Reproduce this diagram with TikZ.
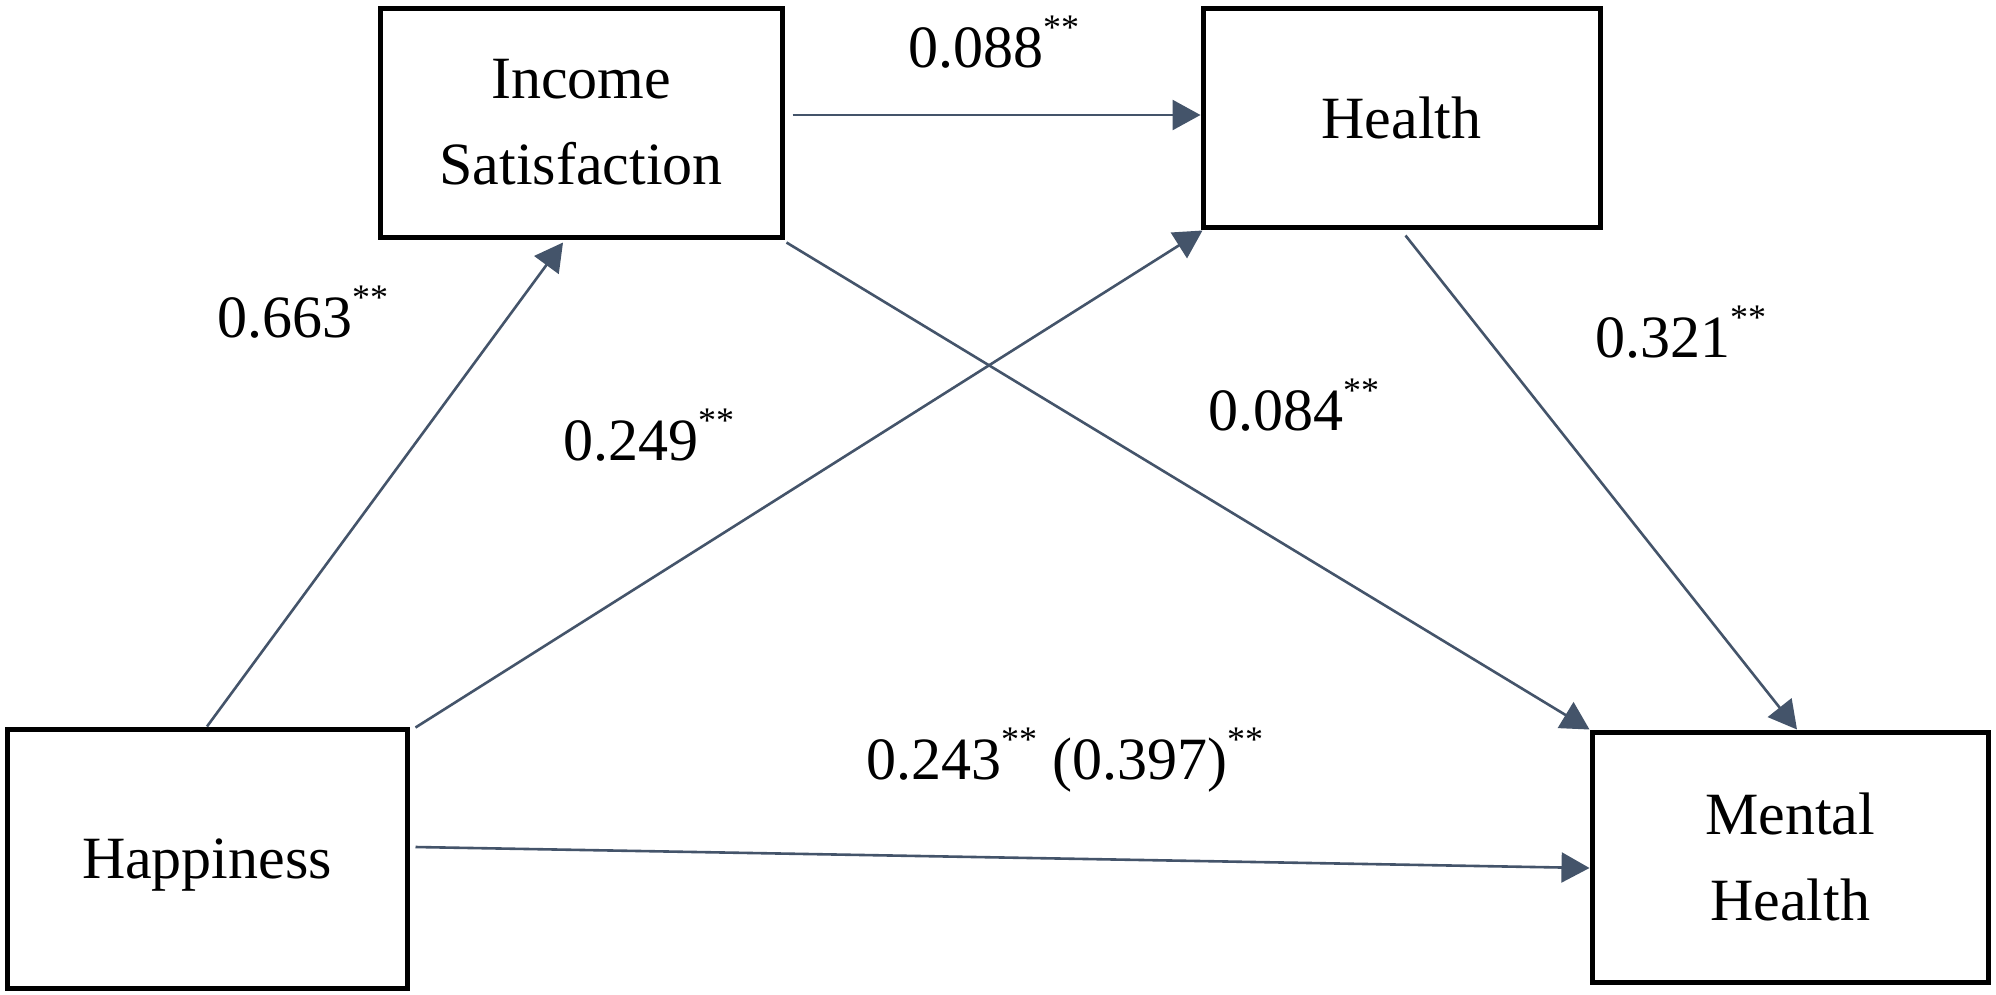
\documentclass[tikz,border=0pt]{standalone}
\usepackage{fontspec}
\setmainfont{Liberation Serif}
\usetikzlibrary{arrows.meta,calc}
\definecolor{conncol}{HTML}{44546A}
\newcommand{\sigstar}{\raisebox{28pt}{\fontsize{36}{36}\selectfont **}}
\begin{document}
\begin{tikzpicture}[x=1pt,y=-1pt,
  box/.style={draw=black, line width=5pt, inner sep=0pt, align=center,
    font=\fontsize{60}{86}\selectfont},
  conn/.style={draw=conncol, line width=2.6pt, -{Triangle[length=28pt,width=30pt]}},
  lab/.style={anchor=base west, inner sep=0pt, font=\fontsize{60}{72}\selectfont}]
\useasboundingbox (0,0) rectangle (1996,994);
\fill[white] (0,0) rectangle (1996,994);

\node[box, minimum width=402pt, minimum height=229pt] (IS) at (581,122.5) {Income\\Satisfaction};
\node[box, minimum width=397pt, minimum height=219pt] (Hea) at (1401.5,117.5) {Health};
\node[box, minimum width=400pt, minimum height=259pt, text depth=0pt] (Hap) at (207,858.5) {Happiness};
\node[box, minimum width=396pt, minimum height=250pt] (MH) at (1790,857) {Mental\\Health};

\draw[conn] (Hap.north) -- ($(IS.south)+(-18,3)$);
\draw[conn] ($(Hap.north east)+(6,1)$) -- ($(Hea.south west)+(2,1)$);
\draw[conn] ($(Hap.east)+(6,-11.5)$) -- ($(MH.west)+(0,11)$);
\draw[conn] ($(IS.east)+(8,-7.5)$) -- ($(Hea.west)+(0,-2.5)$);
\draw[conn] ($(IS.south east)+(2,3)$) -- (MH.north west);
\draw[conn] ($(Hea.south)+(4,6)$) -- ($(MH.north)+(7,0)$);

\node[lab] (l1) at (908,67) {0.088\sigstar};
\node[lab] (l2) at (217,337) {0.663\sigstar};
\node[lab] (l3) at (563,460) {0.249\sigstar};
\node[lab] (l4) at (1208,430) {0.084\sigstar};
\node[lab] (l5) at (1595,357) {0.321\sigstar};
\node[lab] (l6) at (866,779) {0.243\sigstar{} (0.397)\sigstar};
\end{tikzpicture}
\end{document}
